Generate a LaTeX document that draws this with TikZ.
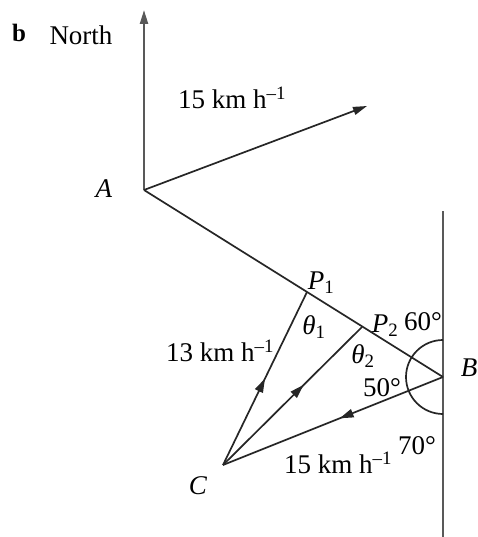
\documentclass[tikz,border=0pt]{standalone}
\usepackage{fontspec}
\setmainfont{Liberation Serif}
\usetikzlibrary{arrows.meta,decorations.markings}
\begin{document}
\begin{tikzpicture}[x=1pt,y=-1pt,
  every node/.style={inner sep=0pt,font=\fontsize{27}{32}\selectfont},
  ln/.style={line width=1.7pt,draw=black!85},
  wall/.style={line width=2.2pt,draw=black!65},
  tip/.style={-{Triangle[length=14pt,width=8pt]}},
  midarrow/.style={postaction={decorate},decoration={markings,mark=at position #1 with {\arrow{Triangle[length=14pt,width=8.5pt]}}}}
]
\useasboundingbox (0,0) rectangle (478,537);
\coordinate (A) at (144,190);
\coordinate (N) at (144,10);
\coordinate (V) at (367,106);
\coordinate (P1) at (307,292);
\coordinate (P2) at (362,327);
\coordinate (B) at (443,377);
\coordinate (C) at (223,465);
\coordinate (Wt) at (443,211);
\coordinate (Wb) at (443,537);
\coordinate (Atop) at (443,340);
% lines
\draw[wall,tip] (A) -- (N);
\draw[wall] (Wt) -- (Wb);
\draw[ln,tip] (A) -- (V);
\draw[ln] (A) -- (B);
\draw[ln,midarrow=0.5] (C) -- (P1);
\draw[ln,midarrow=0.58] (C) -- (P2);
\draw[ln,midarrow=0.47] (B) -- (C);
\draw[ln] (Atop) arc[start angle=90,end angle=270,radius=37pt];
% labels
\node[font=\fontsize{25}{30}\selectfont\bfseries] (lb) at (19,33) {b};
\node (north) at (81,35) {North};
\node (lA) at (104,189) {\textit{A}};
\node (v1) at (232,98) {15 km h\textsuperscript{–1}};
\node (lP1) at (321,283) {\textit{P}\textsubscript{1}};
\node (th1) at (314,327) {\textit{θ}\textsubscript{1}};
\node (lP2) at (385,326) {\textit{P}\textsubscript{2}};
\node (a60) at (423,322) {60°};
\node (th2) at (363,356) {\textit{θ}\textsubscript{2}};
\node (lB) at (469,368) {\textit{B}};
\node (a50) at (382,388) {50°};
\node (v13) at (220,351) {13 km h\textsuperscript{–1}};
\node (a70) at (417,446) {70°};
\node (v15) at (338,463) {15 km h\textsuperscript{–1}};
\node (lC) at (198,486) {\textit{C}};
\end{tikzpicture}
\end{document}
